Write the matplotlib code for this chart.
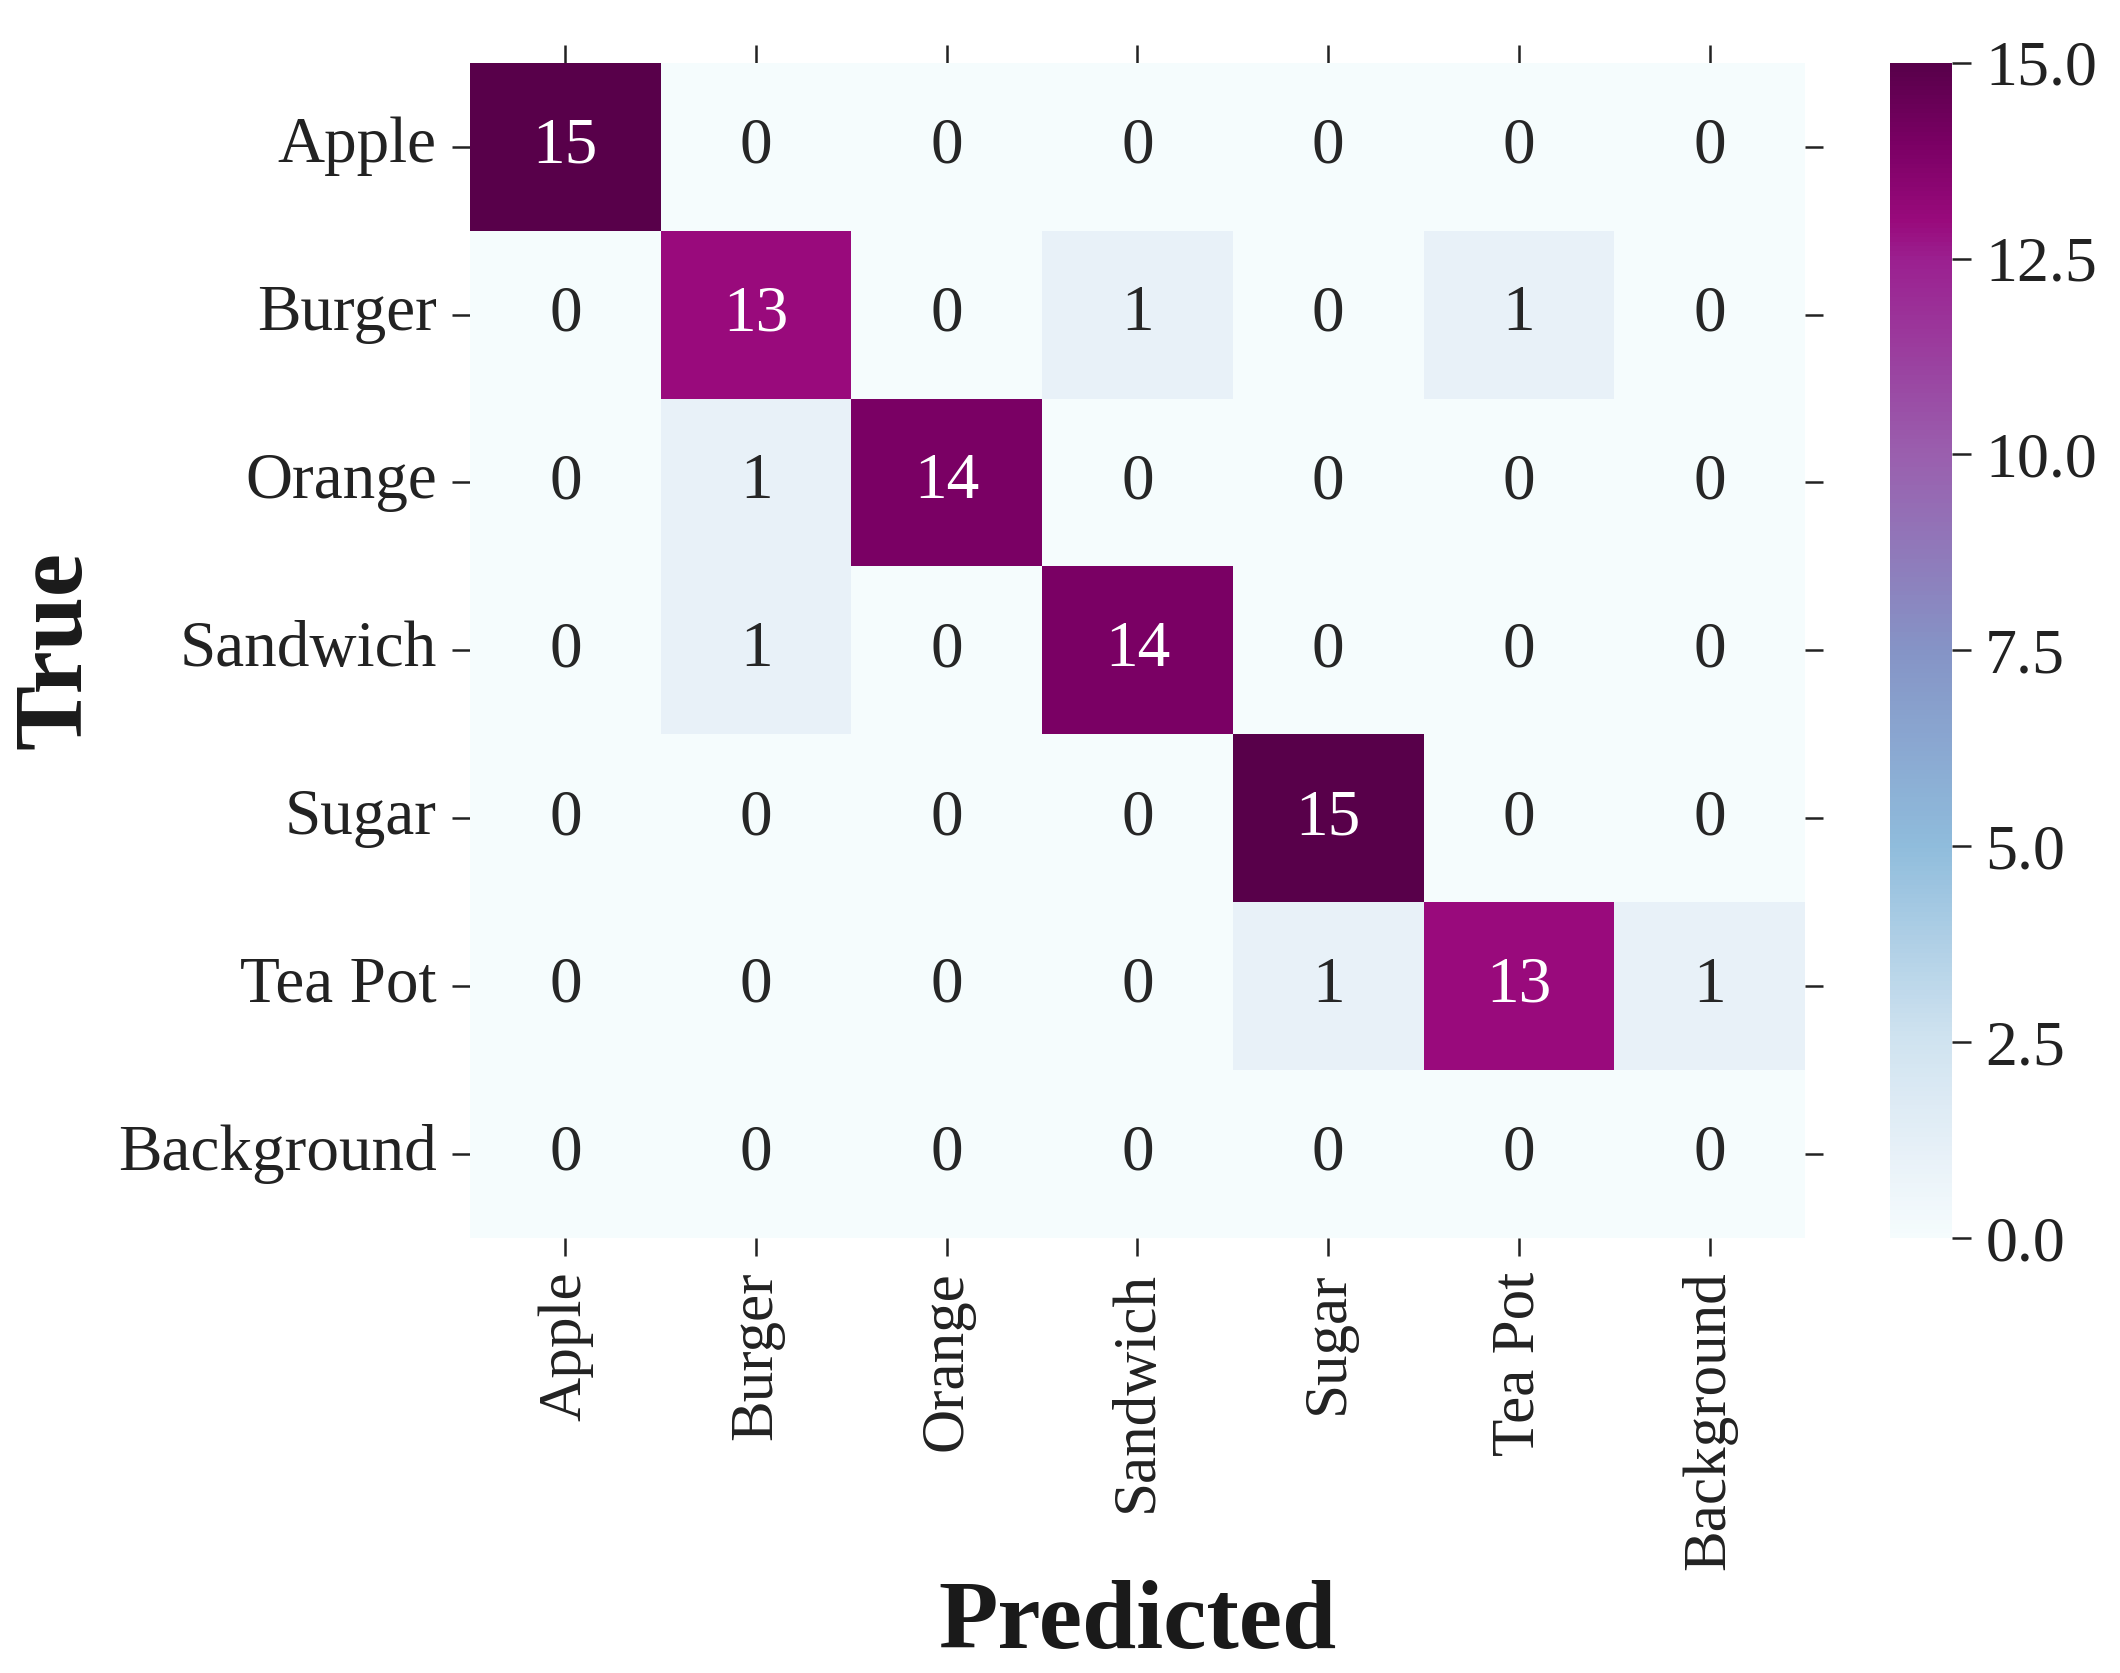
import numpy as np
import matplotlib
matplotlib.use("Agg")
import matplotlib.pyplot as plt
from matplotlib.colors import LinearSegmentedColormap
import seaborn as sns

labels = ["Apple", "Burger", "Orange", "Sandwich", "Sugar", "Tea Pot", "Background"]
row_apple = [15, 0, 0, 0, 0, 0, 0]
row_burger = [0, 13, 0, 1, 0, 1, 0]
row_orange = [0, 1, 14, 0, 0, 0, 0]
row_sandwich = [0, 1, 0, 14, 0, 0, 0]
row_sugar = [0, 0, 0, 0, 15, 0, 0]
row_teapot = [0, 0, 0, 0, 1, 13, 1]
row_background = [0, 0, 0, 0, 0, 0, 0]

cbar_ticks = [0, 2.5, 5, 7.5, 10, 12.5, 15]
cbar_ticklabels = ["0.0", "2.5", "5.0", "7.5", "10.0", "12.5", "15.0"]

# colour ramp (BuPu-like, more saturated)
cmap_stops = [0.0, 1/15, 2.5/15, 5/15, 7.5/15, 10/15, 12.5/15, 13/15, 14/15, 1.0]
cmap_colors = ["#f5fcfd", "#e8f1f8", "#d0e3f0", "#8fbcdc", "#8594c6",
               "#9a5fae", "#9b2090", "#990a7c", "#7a0064", "#58004a"]
cmap = LinearSegmentedColormap.from_list("ref_bupu", list(zip(cmap_stops, cmap_colors)))

cm = np.array([row_apple, row_burger, row_orange, row_sandwich,
               row_sugar, row_teapot, row_background])

sns.set_style("ticks")
plt.rcParams['font.family'] = ['Liberation Serif', 'DejaVu Serif']

fig = plt.figure(figsize=(21.2, 16.73), dpi=100)
ax = fig.add_axes([0.2217, 0.2600, 0.6297, 0.7025])
cax = fig.add_axes([0.8915, 0.2600, 0.0292, 0.7025])

sns.heatmap(cm, ax=ax, cbar_ax=cax, cmap=cmap, annot=True, fmt="d",
            annot_kws={"size": 47}, xticklabels=labels, yticklabels=labels,
            vmin=0, vmax=15)

ax.tick_params(axis='both', which='both', top=True, right=True,
               labeltop=False, labelright=False, length=13, width=1.8,
               direction='out', pad=11, color='#222222', labelcolor='#222222')
ax.tick_params(axis='y', labelsize=47)
ax.tick_params(axis='x', labelsize=44)
ax.set_xticklabels(labels, rotation=90)
ax.set_yticklabels(labels, rotation=0)
for sp in ax.spines.values():
    sp.set_visible(False)

ax.set_xlabel("Predicted", fontsize=70, fontweight='bold', labelpad=7, color='#1a1a1a')
ax.set_ylabel("True", fontsize=70, fontweight='bold', color='#1a1a1a')
ax.yaxis.set_label_coords(-0.276, 0.5)

cbar = ax.collections[0].colorbar
cbar.outline.set_visible(False)
cbar.set_ticks(cbar_ticks)
cbar.set_ticklabels(cbar_ticklabels)
cax.tick_params(labelsize=46, length=14, width=1.8, color='#222222',
                labelcolor='#222222', pad=10)

fig.savefig("out.png", dpi=100)
